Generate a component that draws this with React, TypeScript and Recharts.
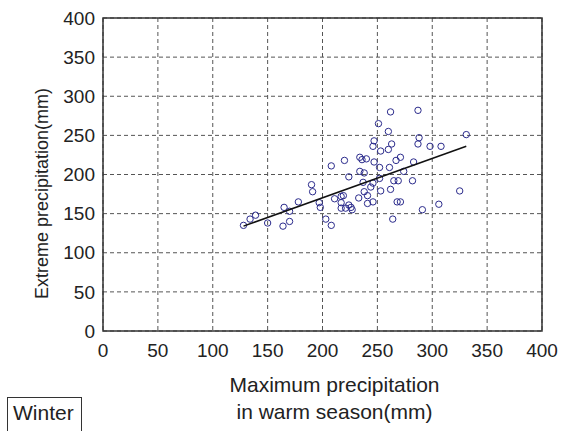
import { ScatterChart, Scatter, XAxis, YAxis, CartesianGrid, ReferenceArea } from 'recharts'

// observed points (warm-season max vs extreme precipitation, winter)
const obsX = [
  128, 134, 139, 150, 164, 170, 165, 170, 178, 190, 191, 197, 198, 203, 208, 208, 211,
  217, 219, 217, 217, 221, 224, 226, 227, 220, 224,
  262, 287, 251, 260, 331, 247, 288, 287, 263, 246, 253, 260, 298, 308,
  234, 236, 240, 247, 252, 267, 271, 283, 261, 234, 238, 274, 237, 252, 246,
  265, 269, 282, 244, 238, 262, 253, 325, 233, 241, 246, 241, 268, 271, 306, 291, 264,
]
const obsY = [
  135, 143, 148, 138, 134, 140, 158, 153, 165, 187, 178, 164, 158, 143, 135, 211, 169,
  172, 173, 164, 157, 157, 161, 158, 155, 218, 197,
  280, 282, 265, 255, 251, 243, 247, 239, 239, 236, 230, 232, 236, 236,
  222, 219, 220, 216, 209, 218, 222, 216, 209, 204, 202, 204, 190, 195, 189,
  192, 192, 192, 184, 178, 181, 179, 179, 170, 173, 165, 163, 165, 165, 162, 155, 143,
]

// fitted line end points
const fitX = [128, 331]
const fitY = [134, 236]

const axisTicks = [0, 50, 100, 150, 200, 250, 300, 350, 400]

const points = obsX.map((x, i) => ({ x, y: obsY[i] }))
const fit = fitX.map((x, i) => ({ x, y: fitY[i] }))

const font = 'Liberation Sans, Arial, Helvetica, sans-serif'
const ink = '#222'

export default function App() {
  return (
    <div
      style={{
        position: 'absolute',
        left: 0,
        top: 0,
        width: 568,
        height: 431,
        overflow: 'hidden',
        background: '#fff',
        fontFamily: font,
      }}
    >
      <ScatterChart width={568} height={431} margin={{ top: 18, right: 26, bottom: 70, left: 0 }}>
        <CartesianGrid stroke="#555" strokeDasharray="4 3" strokeWidth={1} />
        <XAxis
          type="number"
          dataKey="x"
          domain={[0, 400]}
          ticks={axisTicks}
          interval={0}
          height={30}
          tickMargin={7}
          axisLine={false}
          tickLine={false}
          tick={{ fontSize: 19, fill: ink, fontFamily: font }}
          label={{
            content: ({ viewBox }: any) => {
              const cx = viewBox.x + viewBox.width / 2 + 12
              return (
                <text textAnchor="middle" fontSize={21} fill={ink} fontFamily={font}>
                  <tspan x={cx} y={392}>Maximum precipitation</tspan>
                  <tspan x={cx} y={419}>in warm season(mm)</tspan>
                </text>
              )
            },
          }}
        />
        <YAxis
          type="number"
          dataKey="y"
          domain={[0, 400]}
          ticks={axisTicks}
          interval={0}
          width={103}
          axisLine={false}
          tickLine={false}
          tick={{ fontSize: 19, fill: ink, fontFamily: font }}
          label={{
            content: ({ viewBox }: any) => {
              const cy = viewBox.y + viewBox.height / 2 + 19
              return (
                <text
                  x={42}
                  y={cy}
                  transform={`rotate(-90, 42, ${cy})`}
                  textAnchor="middle"
                  dominantBaseline="central"
                  fontSize={18}
                  fill={ink}
                  fontFamily={font}
                >
                  Extreme precipitation(mm)
                </text>
              )
            },
          }}
        />
        <ReferenceArea x1={0} x2={400} y1={0} y2={400} fill="none" stroke="#333" strokeWidth={1.5} />
        <Scatter
          data={points}
          isAnimationActive={false}
          shape={(p: any) => (
            <circle cx={p.cx} cy={p.cy} r={3.2} fill="none" stroke="#2b2b8c" strokeWidth={1} />
          )}
        />
        <Scatter
          data={fit}
          isAnimationActive={false}
          line={{ stroke: '#111', strokeWidth: 1.5 }}
          shape={() => <g />}
        />
      </ScatterChart>
      <div
        style={{
          position: 'absolute',
          left: 7,
          top: 397,
          width: 75,
          height: 44,
          border: '1px solid #333',
          fontSize: 21,
          lineHeight: '30px',
          color: ink,
          paddingLeft: 5,
          paddingTop: 0,
          boxSizing: 'border-box',
        }}
      >
        Winter
      </div>
    </div>
  )
}
